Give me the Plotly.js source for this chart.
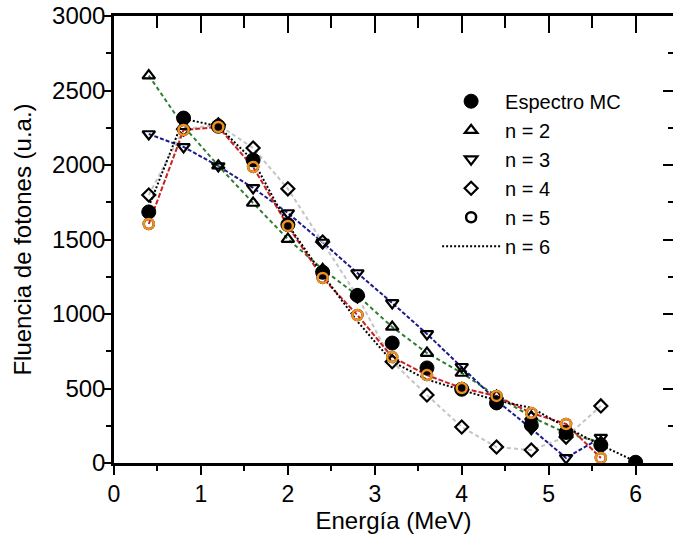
<!DOCTYPE html>
<html>
<head>
<meta charset="utf-8">
<script src="https://cdn.plot.ly/plotly-3.0.1.min.js"></script>
<style>html,body{margin:0;padding:0;overflow:hidden;background:#fff}</style>
</head>
<body>
<div id="chart" style="width:673px;height:547px"></div>
<script>
// Energies (MeV)
const energy = [0.4, 0.8, 1.2, 1.6, 2.0, 2.4, 2.8, 3.2, 3.6, 4.0, 4.4, 4.8, 5.2, 5.6, 6.0];
const energyFit = [0.4, 0.8, 1.2, 1.6, 2.0, 2.4, 2.8, 3.2, 3.6, 4.0, 4.4, 4.8, 5.2, 5.6];

// Series values (u.a.)
const espectroMC = [1685, 2315, 2260, 2034, 1600, 1280, 1125, 805, 638, 495, 403, 255, 205, 121, 5];
const n2 = [2600, 2260, 1995, 1745, 1503, 1300, 1125, 913, 738, 604, 450, 310, 200, 140];
const n3 = [2208, 2121, 1993, 1846, 1678, 1480, 1275, 1074, 866, 646, 420, 230, 34, 170];
const n4 = [1799, 2240, 2270, 2114, 1840, 1483, 1120, 680, 456, 242, 107, 87, 174, 383];
const n5 = [1604, 2235, 2255, 1987, 1591, 1242, 993, 711, 590, 503, 450, 335, 262, 34];
const n6 = [1720, 2310, 2260, 2030, 1600, 1265, 950, 680, 560, 490, 420, 370, 240, 120, 10];

const xTicks = [0, 1, 2, 3, 4, 5, 6];
const yTicks = [0, 500, 1000, 1500, 2000, 2500, 3000];

const FONT = 'Liberation Sans, Arial, sans-serif';

function lineTrace(x, y, color, dash) {
  return {x: x, y: y, type: 'scatter', mode: 'lines', showlegend: false,
          line: {color: color, width: 2, dash: dash}, hoverinfo: 'skip'};
}
function markerTrace(name, x, y, symbol, size, color, rank, lw) {
  return {x: x, y: y, type: 'scatter', mode: 'markers', name: name, legendrank: rank,
          marker: {symbol: symbol, size: size, color: color,
                   line: {color: color, width: lw}}};
}

const traces = [
  lineTrace(energyFit, n2, '#2e7d32', '4px,3px'),
  lineTrace(energyFit, n3, '#1a1a8c', '4px,2px'),
  lineTrace(energyFit, n4, '#c4c4c4', '4px,3px'),
  lineTrace(energyFit, n5, '#cc1f1f', '5px,2px'),
  {x: energy, y: n6, type: 'scatter', mode: 'lines', name: 'n = 6', legendrank: 6,
   line: {color: '#000000', width: 2, dash: '2px,2px'}},
  markerTrace('Espectro MC', energy, espectroMC, 'circle', 14, '#000000', 1, 1),
  markerTrace('n = 2', energyFit, n2, 'triangle-up-open', 11, '#000000', 2, 2.2),
  markerTrace('n = 3', energyFit, n3, 'triangle-down-open', 11, '#000000', 3, 2.2),
  markerTrace('n = 4', energyFit, n4, 'diamond-open', 10, '#000000', 4, 2.2),
  markerTrace('n = 5', energyFit, n5, 'circle-open', 10, '#000000', 5, 2.5),
  {x: energyFit, y: n5, type: 'scatter', mode: 'markers', showlegend: false, hoverinfo: 'skip',
   marker: {symbol: 'circle-open', size: 10, color: '#f0901e', line: {color: '#f0901e', width: 2.5}}},
  // invisible copy so that the mirrored top/right axes are drawn
  {x: energy, y: espectroMC, xaxis: 'x2', yaxis: 'y2', type: 'scatter', mode: 'markers',
   showlegend: false, hoverinfo: 'skip', marker: {opacity: 0, size: 1}}
];

const xRange = [0, 6.43];
const yRange = [0, 3000];

const layout = {
  width: 673, height: 547,
  margin: {l: 114, r: 0, t: 16, b: 84},
  paper_bgcolor: '#ffffff', plot_bgcolor: '#ffffff',
  font: {family: FONT, color: '#000000', size: 23},
  showlegend: true,
  legend: {x: 0.578, y: 0.853, xanchor: 'left', yanchor: 'top', bgcolor: 'rgba(0,0,0,0)',
           font: {family: FONT, size: 20, color: '#000000'}, itemwidth: 58, tracegroupgap: 0},
  xaxis: {range: xRange, tickvals: xTicks, ticktext: xTicks.map(String), showgrid: false, zeroline: false,
          showline: true, linewidth: 2.5, linecolor: '#000000',
          ticks: 'outside', ticklen: 9, tickwidth: 2, tickcolor: '#000000',
          minor: {dtick: 0.5, ticks: 'outside', ticklen: 5, tickwidth: 2, tickcolor: '#000000'},
          tickfont: {family: FONT, size: 23},
          title: {text: 'Energía (MeV)', font: {family: FONT, size: 24}, standoff: 6}},
  yaxis: {range: yRange, tickvals: yTicks, ticktext: yTicks.map(String), showgrid: false, zeroline: false,
          showline: true, linewidth: 2.5, linecolor: '#000000',
          ticks: 'outside', ticklen: 8, tickwidth: 2, tickcolor: '#000000', ticklabelstandoff: -7,
          minor: {dtick: 250, ticks: 'outside', ticklen: 5, tickwidth: 2, tickcolor: '#000000'},
          tickfont: {family: FONT, size: 24},
          title: {text: 'Fluencia de fotones (u.a.)', font: {family: FONT, size: 24}, standoff: 14}},
  xaxis2: {overlaying: 'x', side: 'top', anchor: 'y', range: xRange, dtick: 1, tick0: 0,
           showticklabels: false, showgrid: false, zeroline: false,
           showline: true, linewidth: 2.5, linecolor: '#000000',
           ticks: 'inside', ticklen: 17, tickwidth: 2, tickcolor: '#000000',
           minor: {dtick: 0.5, ticks: 'inside', ticklen: 12, tickwidth: 2, tickcolor: '#000000'}},
  yaxis2: {overlaying: 'y', side: 'right', anchor: 'x', range: yRange, dtick: 500, tick0: 0,
           showticklabels: false, showgrid: false, zeroline: false, showline: false,
           ticks: 'inside', ticklen: 10, tickwidth: 2, tickcolor: '#000000',
           minor: {dtick: 250, ticks: 'inside', ticklen: 5, tickwidth: 2, tickcolor: '#000000'}}
};

Plotly.newPlot('chart', traces, layout, {displayModeBar: false, responsive: false});
</script>
</body>
</html>
